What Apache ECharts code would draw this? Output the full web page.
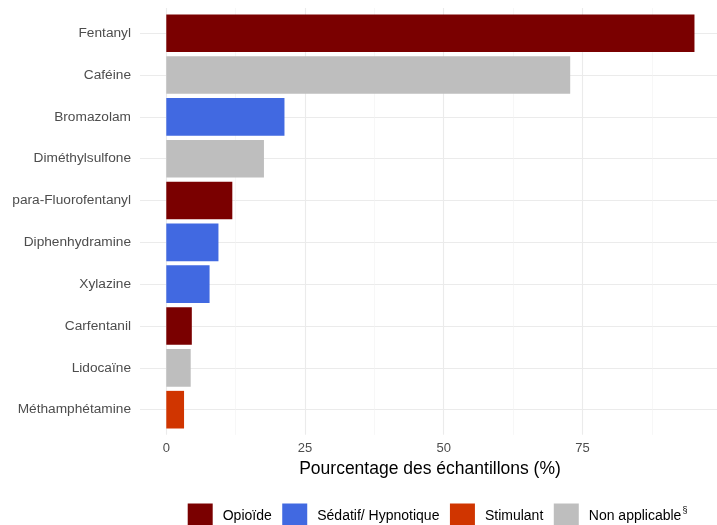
<!DOCTYPE html>
<html>
<head>
<meta charset="utf-8">
<script src="https://cdn.jsdelivr.net/npm/echarts@6/dist/echarts.min.js"></script>
<style>html,body{margin:0;padding:0;background:#fff}#c{width:717px;height:525px}</style>
</head>
<body>
<div id="c"></div>
<script>
const categories = ['Fentanyl','Caféine','Bromazolam','Diméthylsulfone','para-Fluorofentanyl','Diphenhydramine','Xylazine','Carfentanil','Lidocaïne','Méthamphétamine'];
const values = [95.2, 72.8, 21.3, 17.6, 11.9, 9.4, 7.8, 4.6, 4.4, 3.2];
const groups = ['Opioïde','Non applicable','Sédatif/ Hypnotique','Non applicable','Opioïde','Sédatif/ Hypnotique','Sédatif/ Hypnotique','Opioïde','Non applicable','Stimulant'];
const groupNames = ['Opioïde','Sédatif/ Hypnotique','Stimulant','Non applicable'];
const groupColors = ['#7a0000','#4169e1','#d03500','#bebebe'];
const xTicks = [0, 25, 50, 75];
const xMinorTicks = [12.5, 37.5, 62.5, 87.5];

const xMin = -4.74, xMax = 99.26;
const font = '"Liberation Sans", Arial, sans-serif';

const series = groupNames.map((g, gi) => ({
  name: g,
  type: 'bar',
  xAxisIndex: 2,
  yAxisIndex: 1,
  stack: 'all',
  barWidth: '90%',
  itemStyle: { color: groupColors[gi] },
  data: values.map((v, i) => groups[i] === g ? v : null)
}));

const chart = echarts.init(document.getElementById('c'), null, {renderer: 'canvas'});
chart.setOption({
  animation: false,
  backgroundColor: '#fff',
  grid: [
    { left: 140, right: 0, top: 8, bottom: 90.2, outerBoundsMode: 'none' },
    { left: 140, right: 0, top: 12.3, bottom: 94.4, outerBoundsMode: 'none' }
  ],
  xAxis: [
    { type: 'value', gridIndex: 0, min: xMin, max: xMax,
      axisLine: {show: false},
      axisTick: {show: false, customValues: xTicks},
      axisLabel: {customValues: xTicks, color: '#4d4d4d', fontSize: 13, fontFamily: font, margin: 7},
      splitLine: {show: true, lineStyle: {color: '#ebebeb', width: 1.1}},
      name: 'Pourcentage des échantillons (%)', nameLocation: 'middle', nameGap: 23,
      nameTextStyle: {color: '#000', fontSize: 17.5, fontFamily: font, padding: [0,0,0,3]}
    },
    { type: 'value', gridIndex: 0, min: xMin, max: xMax,
      axisLine: {show: false},
      axisTick: {show: false, customValues: xMinorTicks},
      axisLabel: {show: false, customValues: xMinorTicks},
      splitLine: {show: true, lineStyle: {color: '#f2f2f2', width: 0.6}}
    },
    { type: 'value', gridIndex: 1, min: xMin, max: xMax, show: false, splitLine: {show: false} }
  ],
  yAxis: [
    { type: 'value', gridIndex: 0, min: 0.4, max: 10.6, inverse: true,
      axisLine: {show: false},
      axisTick: {show: false, customValues: [1,2,3,4,5,6,7,8,9,10]},
      axisLabel: {show: false, customValues: [1,2,3,4,5,6,7,8,9,10]},
      splitLine: {show: true, lineStyle: {color: '#ebebeb', width: 1.1}}
    },
    { type: 'category', gridIndex: 1, data: categories, inverse: true,
      axisLine: {show: false}, axisTick: {show: false}, splitLine: {show: false},
      axisLabel: {color: '#4d4d4d', fontSize: 13.7, fontFamily: font, margin: 9}
    }
  ],
  legend: {
    data: groupNames,
    left: 187.7, top: 503.5, padding: 0,
    icon: 'rect', itemWidth: 25, itemHeight: 25, itemGap: 10.5,
    textStyle: {color: '#000', fontSize: 14, fontFamily: font, padding: [0,0,0,5],
      rich: { s: {fontSize: 9, fontFamily: font, color: '#000', padding: [0,0,10,1]} }
    },
    formatter: n => n === 'Non applicable' ? 'Non applicable{s|§}' : n
  },
  series: series
});
</script>
</body>
</html>
